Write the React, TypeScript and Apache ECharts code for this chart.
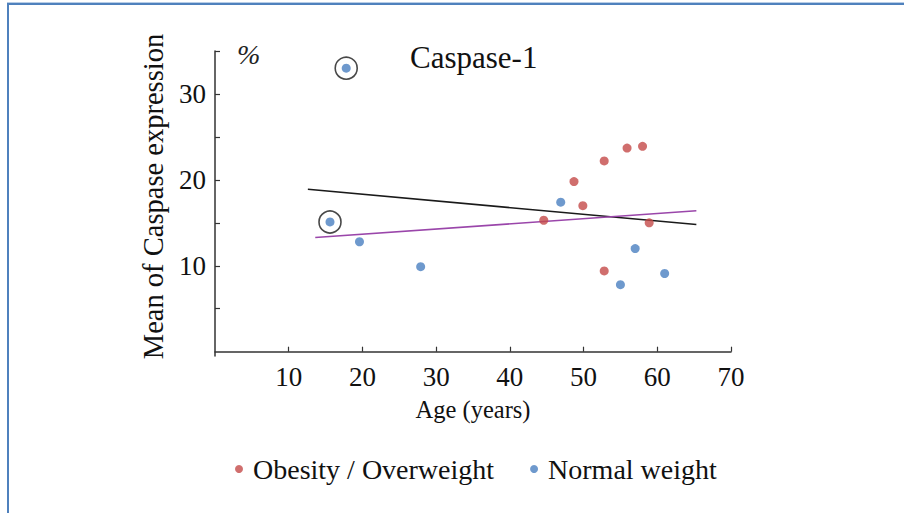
import React, { useEffect, useRef } from "react";
import * as echarts from "echarts";

const obesity: [number, number][] = [
  [44.6, 15.3], [48.7, 19.8], [49.9, 17.0], [52.8, 22.2], [55.9, 23.7],
  [58.0, 23.9], [58.9, 15.0], [52.8, 9.4],
];
const normal: [number, number][] = [
  [17.8, 33.0], [15.6, 15.1], [19.6, 12.8], [27.9, 9.9], [46.9, 17.4],
  [57.0, 12.0], [55.0, 7.8], [61.0, 9.1],
];
const circled: [number, number][] = [
  [17.8, 33.0], [15.6, 15.1],
];
const blackTrend: [number, number][] = [[12.6, 18.9], [65.3, 14.8]];
const purpleTrend: [number, number][] = [[13.6, 13.3], [65.3, 16.4]];
const xTicks = [10, 20, 30, 40, 50, 60, 70];
const yTicks = [5, 10, 15, 20, 25, 30, 35];
const yLabels = [10, 20, 30];

const FONT = "Liberation Serif";

export default function App() {
  const ref = useRef<HTMLDivElement>(null);
  useEffect(() => {
    if (!ref.current) return;
    const chart = echarts.init(ref.current, null, { renderer: "svg" });
    chart.setOption({
      animation: false,
      backgroundColor: "#ffffff",
      textStyle: { fontFamily: FONT, color: "#111" },
      title: [
        {
          text: "Caspase-1",
          left: 405,
          top: 37,
          textStyle: { fontFamily: FONT, fontSize: 31, fontWeight: "normal", color: "#111" },
        },
        {
          text: "%",
          left: 232,
          top: 35,
          textStyle: { fontFamily: FONT, fontSize: 28, fontStyle: "italic", fontWeight: "normal", color: "#222" },
        },
      ],
      legend: {
        left: 230,
        top: 450,
        itemWidth: 8,
        itemHeight: 8,
        itemGap: 36,
        icon: "circle",
        data: ["Obesity / Overweight", "Normal weight"],
        textStyle: { fontFamily: FONT, fontSize: 28, color: "#111", padding: [0, 0, 0, 5] },
      },
      grid: { left: 215, right: 173, top: 51, bottom: 157, containLabel: false },
      xAxis: {
        type: "value",
        min: 0,
        max: 70,
        name: "Age (years)",
        nameLocation: "middle",
        nameGap: 41,
        nameTextStyle: { fontFamily: FONT, fontSize: 24.5, color: "#111" },
        axisLine: { onZero: true, lineStyle: { color: "#333", width: 1.5 } },
        axisTick: { inside: true, length: 5, customValues: xTicks, lineStyle: { color: "#333", width: 1.2 } },
        axisLabel: { customValues: xTicks, fontFamily: FONT, fontSize: 27, color: "#111", margin: 7 },
        splitLine: { show: false },
      },
      yAxis: {
        type: "value",
        min: -0.5,
        max: 35,
        name: "Mean of Caspase expression",
        nameLocation: "middle",
        nameRotate: 90,
        nameGap: 28,
        nameTextStyle: { fontFamily: FONT, fontSize: 28.5, color: "#111", padding: [0, 0, 0, 14] },
        axisLine: { show: true, lineStyle: { color: "#333", width: 1.5 } },
        axisTick: { show: true, inside: true, length: 5, customValues: yTicks, lineStyle: { color: "#333", width: 1.2 } },
        axisLabel: { customValues: yLabels, fontFamily: FONT, fontSize: 27, color: "#111", margin: 9 },
        splitLine: { show: false },
      },
      series: [
        {
          type: "line",
          data: blackTrend,
          symbol: "none",
          lineStyle: { color: "#1a1a1a", width: 1.6 },
          silent: true,
          z: 2,
        },
        {
          type: "line",
          data: purpleTrend,
          symbol: "none",
          lineStyle: { color: "#9a46aa", width: 1.6 },
          silent: true,
          z: 2,
        },
        {
          name: "Obesity / Overweight",
          type: "scatter",
          data: obesity,
          symbol: "circle",
          symbolSize: 9,
          itemStyle: { color: "#c44a48" },
          z: 3,
        },
        {
          name: "Normal weight",
          type: "scatter",
          data: normal,
          symbol: "circle",
          symbolSize: 9,
          itemStyle: { color: "#4a7fc1" },
          z: 3,
        },
        {
          type: "scatter",
          data: circled,
          symbol: "circle",
          symbolSize: 22,
          itemStyle: { color: "none", borderColor: "#1a1a1a", borderWidth: 1.6 },
          silent: true,
          z: 1,
        },
      ],
    });
    return () => chart.dispose();
  }, []);
  return (
    <div style={{ position: "fixed", left: 0, top: 0, width: 904, height: 513, background: "#fff" }}>
      <div ref={ref} style={{ position: "absolute", left: 0, top: 0, width: 904, height: 513 }} />
      <div
        style={{
          position: "absolute",
          left: 7,
          top: 3,
          right: 0,
          bottom: 0,
          borderLeft: "2px solid #4f81bd",
          borderTop: "2px solid #4f81bd",
          boxShadow: "0 -1px 0 #b8cde6",
          pointerEvents: "none",
        }}
      />
    </div>
  );
}
